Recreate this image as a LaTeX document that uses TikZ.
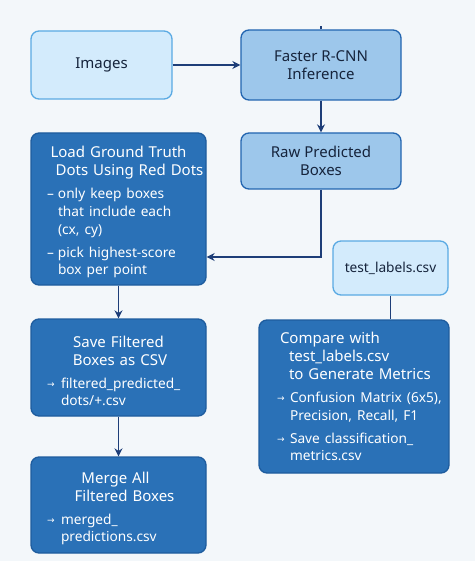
\documentclass[tikz,border=0pt]{standalone}
\usepackage{fontspec}
\setmainfont{Noto Sans}
\newfontfamily\symfont{DejaVu Sans}
\usetikzlibrary{arrows.meta}
\definecolor{bgc}{HTML}{F3F7FA}
\definecolor{lightfill}{HTML}{D3EBFC}
\definecolor{lightline}{HTML}{5AAAE3}
\definecolor{midfill}{HTML}{9DC7EB}
\definecolor{midline}{HTML}{2265B0}
\definecolor{darkfill}{HTML}{2A71B7}
\definecolor{darkline}{HTML}{1E5C9E}
\definecolor{navy}{HTML}{1E3E78}
\definecolor{txtdark}{HTML}{16243C}
\newcommand\ttl{\fontsize{15}{18}\selectfont}
\newcommand\bdy{\fontsize{13.7}{17.6}\selectfont}
\newcommand\ctrline[2][0pt]{\par\noindent\hbox to\linewidth{\hss\hspace*{#1}#2\hss}\par}
\newcommand\itm[4]{\par\vspace{5.5pt}\begingroup\bdy\leftskip=#1\relax\hangindent=#2\relax\hangafter=1\noindent\makebox[#2][l]{#3}#4\par\endgroup}
\newcommand\sarr{{\symfont\fontsize{9}{9}\selectfont\raisebox{1pt}{→}}}
\begin{document}
\begin{tikzpicture}[x=1pt,y=-1pt,
  boxbase/.style={rounded corners=8pt, line width=1.3pt, inner sep=0pt, font=\ttl},
  lightbox/.style={boxbase, draw=lightline, fill=lightfill, text=txtdark, align=center},
  midbox/.style={boxbase, draw=midline, fill=midfill, text=txtdark, align=center},
  darkbox/.style={boxbase, draw=darkline, fill=darkfill, text=white, align=left},
  conn/.style={draw=navy, line width=1.3pt},
  arr/.style={conn, -{Stealth[length=8pt,width=8pt]}}]
\useasboundingbox[fill=bgc] (0,0) rectangle (475,561);

\node[lightbox, minimum width=141pt, minimum height=68pt] (images) at (101.5,65) {Images};
\node[midbox, minimum width=160pt, minimum height=70pt] (faster) at (321,65) {Faster R-CNN\\Inference};
\node[midbox, minimum width=160pt, minimum height=56pt] (raw) at (321,161) {Raw Predicted\\Boxes};
\node[lightbox, minimum width=115pt, minimum height=54pt, font=\bdy] (labels) at (390.5,268) {test\_labels.csv};

\node[darkbox, minimum width=175pt, minimum height=152pt, text width=159pt] (load) at (118.5,209) {%
  \ctrline{Load Ground Truth}\ctrline[22pt]{Dots Using Red Dots}%
  \itm{8pt}{11pt}{–}{\mbox{only keep boxes}\newline\mbox{that include each}\newline\mbox{(cx, cy)}}%
  \itm{8pt}{11pt}{–}{\mbox{pick highest-score}\newline\mbox{box per point}}};

\node[darkbox, minimum width=175pt, minimum height=97pt, text width=159pt] (save) at (118.5,367.5) {%
  \ctrline{Save Filtered}\ctrline[3pt]{Boxes as CSV}%
  \itm{8pt}{14pt}{\sarr}{\mbox{filtered\_predicted\_}\newline\mbox{dots/+.csv}}};

\node[darkbox, minimum width=175pt, minimum height=96pt, text width=159pt] (merge) at (118.5,505) {%
  \ctrline[-6pt]{Merge All}\ctrline[12pt]{Filtered Boxes}%
  \itm{8pt}{14pt}{\sarr}{\mbox{merged\_}\newline\mbox{predictions.csv}}};

\node[darkbox, minimum width=190pt, minimum height=153pt, text width=174pt] (compare) at (354,396.5) {%
  \begingroup\leftskip=13pt\hangindent=9pt\hangafter=1\noindent\mbox{Compare with}\newline\mbox{test\_labels.csv}\newline\mbox{to Generate Metrics}\par\endgroup
  \itm{10pt}{13pt}{\sarr}{\mbox{Confusion Matrix (6x5),}\newline\mbox{Precision, Recall, F1}}%
  \itm{10pt}{13pt}{\sarr}{\mbox{Save classification\_}\newline\mbox{metrics.csv}}};

\coordinate (elbow) at (321,257);
\draw[conn] (faster.north) -- ++(0,-3);
\draw[arr] (images.east) -- (faster.west);
\draw[arr] (faster.south) -- (raw.north);
\draw[arr] (raw.south) |- (load.east |- elbow);
\draw[arr] (load.south) -- (save.north);
\draw[arr] (save.south) -- (merge.north);
\draw[conn] (labels.south) -- (labels.south |- compare.north);
\end{tikzpicture}
\end{document}
